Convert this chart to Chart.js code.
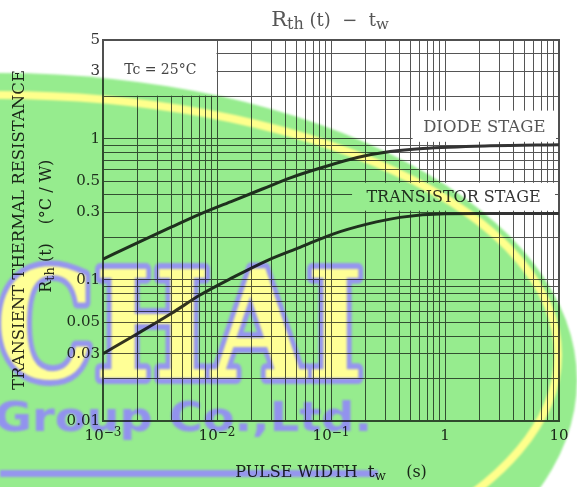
<!DOCTYPE html>
<html>
<head>
<meta charset="utf-8">
<script src="https://cdn.jsdelivr.net/npm/chart.js@4.4.1/dist/chart.umd.min.js"></script>
<style>
  html, body { margin: 0; padding: 0; background: #fff; }
  #wrap { width: 577px; height: 487px; }
</style>
</head>
<body>
<div id="wrap"><canvas id="c" width="577" height="487"></canvas></div>
<script>
// pulse width (s) and Rth(t) (°C/W)
const diodeT = [0.001, 0.002, 0.004, 0.0071, 0.0138, 0.025, 0.044, 0.085, 0.17, 0.33, 0.64, 2.5, 10];
const diodeR = [0.14, 0.183, 0.237, 0.292, 0.363, 0.44, 0.528, 0.627, 0.735, 0.81, 0.852, 0.89, 0.906];
const transT = [0.001, 0.002, 0.004, 0.0071, 0.0138, 0.0275, 0.0535, 0.104, 0.207, 0.403, 1, 2, 5, 10];
const transR = [0.03, 0.0415, 0.058, 0.078, 0.104, 0.137, 0.17, 0.211, 0.248, 0.277, 0.294, 0.295, 0.295, 0.295];

const yLabels = [0.01, 0.03, 0.05, 0.1, 0.3, 0.5, 1, 3, 5];
const xDecades = [0.001, 0.01, 0.1, 1, 10];
const xTickBase = ["10", "10", "10", "1", "10"];
const xTickExp = ["\u22123", "\u22122", "\u22121", "", ""];

const titleText = ["R", "th", " (t)", "  \u2212  ", "t", "w"];
const yTitle = "TRANSIENT THERMAL RESISTANCE";
const yUnit = "(\u00B0C / W)";
const xTitle = ["PULSE WIDTH  ", "t", "w", "    (s)"];
const tcText = "Tc = 25\u00B0C";
const diodeLabel = "DIODE STAGE";
const transLabel = "TRANSISTOR STAGE";
const wmMain = "CHAI";
const wmSub = "Group Co.,Ltd.";

// 1..9 per decade for the log grid
function logGrid(eMin, eMax, lo, hi) {
  const out = [];
  for (let e = eMin; e <= eMax; e++) {
    for (let m = 1; m <= 9; m++) {
      const v = +(m * Math.pow(10, e)).toPrecision(3);
      if (v >= lo && v <= hi) out.push(v);
    }
  }
  return out;
}
const xGrid = logGrid(-3, 1, 0.001, 10);
const yGrid = logGrid(-2, 0, 0.01, 5);

const SERIF = '"DejaVu Serif", "Liberation Serif", serif';

function rich(ctx, parts, cx, base) {
  let w = 0;
  parts.forEach((p) => {
    ctx.font = p.s + "px " + SERIF;
    w += ctx.measureText(p.t).width;
  });
  let x = cx - w / 2;
  ctx.textAlign = "left";
  ctx.textBaseline = "alphabetic";
  parts.forEach((p) => {
    ctx.font = p.s + "px " + SERIF;
    ctx.fillText(p.t, x, base + (p.dy || 0));
    x += ctx.measureText(p.t).width;
  });
}

const decor = {
  id: "decor",
  beforeDraw(chart) {
    const ctx = chart.ctx;
    ctx.save();
    ctx.fillStyle = "#fff";
    ctx.fillRect(0, 0, chart.width, chart.height);
    ctx.restore();
  },
  beforeDatasetsDraw(chart) {
    const { ctx, chartArea: a, scales } = chart;
    const x = scales.x, y = scales.y;
    ctx.save();

    // blank label boxes over the grid
    ctx.fillStyle = "#fff";
    const tc = [a.left + 1, a.top + 1, x.getPixelForValue(0.01) - 0.5, y.getPixelForValue(2) - 0.5];
    const db = [x.getPixelForValue(0.52), y.getPixelForValue(1.58), a.right - 3, y.getPixelForValue(0.95)];
    const tb = [x.getPixelForValue(0.153), y.getPixelForValue(0.487), a.right - 4, y.getPixelForValue(0.309)];
    [tc, db, tb].forEach((b) => ctx.fillRect(b[0], b[1], b[2] - b[0], b[3] - b[1]));

    // frame
    ctx.strokeStyle = "#505050";
    ctx.lineWidth = 2;
    ctx.strokeRect(a.left, a.top, a.right - a.left, a.bottom - a.top);

    ctx.textAlign = "center";
    ctx.textBaseline = "middle";
    ctx.fillStyle = "#444";
    ctx.font = "14px " + SERIF;
    ctx.fillText(tcText, (tc[0] + tc[2]) / 2, (tc[1] + tc[3]) / 2 + 2);
    ctx.fillStyle = "#555";
    ctx.font = "16.5px " + SERIF;
    ctx.fillText(diodeLabel, (db[0] + db[2]) / 2, (db[1] + db[3]) / 2 + 1);
    ctx.fillStyle = "#333";
    ctx.font = "16px " + SERIF;
    ctx.fillText(transLabel, (tb[0] + tb[2]) / 2, (tb[1] + tb[3]) / 2 + 1);

    // title
    ctx.fillStyle = "#555";
    rich(ctx, [
      { t: titleText[0], s: 21 },
      { t: titleText[1], s: 16, dy: 3 },
      { t: titleText[2], s: 18 },
      { t: titleText[3], s: 18 },
      { t: titleText[4], s: 18 },
      { t: titleText[5], s: 15, dy: 3 }
    ], 330, 26);

    // x tick labels
    ctx.fillStyle = "#2a2a2a";
    xDecades.forEach((v, i) => {
      const px = x.getPixelForValue(v);
      rich(ctx, [
        { t: xTickBase[i], s: 15 },
        { t: xTickExp[i], s: 12, dy: -4 }
      ], px, 440);
    });

    // x title
    rich(ctx, [
      { t: xTitle[0], s: 16 },
      { t: xTitle[1], s: 17 },
      { t: xTitle[2], s: 13, dy: 3 },
      { t: xTitle[3], s: 16 }
    ], (a.left + a.right) / 2, 477);

    // y title, two rotated lines
    ctx.save();
    ctx.translate(20, 230);
    ctx.rotate(-Math.PI / 2);
    ctx.textAlign = "center";
    ctx.textBaseline = "middle";
    ctx.font = "16.5px " + SERIF;
    ctx.fillText(yTitle, 0, 0);
    ctx.restore();

    ctx.save();
    ctx.translate(51, 268);
    ctx.rotate(-Math.PI / 2);
    rich(ctx, [
      { t: "R", s: 16 },
      { t: "th", s: 13, dy: 3 },
      { t: " (t)", s: 16 }
    ], 0, 0);
    ctx.restore();

    ctx.save();
    ctx.translate(51, 192);
    ctx.rotate(-Math.PI / 2);
    rich(ctx, [{ t: yUnit, s: 16 }], 0, 0);
    ctx.restore();

    ctx.restore();
  },
  afterDraw(chart) {
    // watermark, multiplied over the finished chart
    const { ctx, width, height } = chart;
    const off = document.createElement("canvas");
    off.width = width;
    off.height = height;
    const o = off.getContext("2d");
    o.filter = "blur(1px)";

    o.fillStyle = "rgb(150,236,142)";
    o.beginPath();
    o.ellipse(0, 380, 577, 307, 0, 0, Math.PI * 2);
    o.fill();

    o.strokeStyle = "rgb(255,255,140)";
    o.lineWidth = 8;
    o.beginPath();
    o.ellipse(0, 355, 558, 260, 0, 0, Math.PI * 2);
    o.stroke();

    o.font = 'bold 150px "DejaVu Serif"';
    const w1 = o.measureText(wmMain).width;
    o.save();
    o.translate(-4, 378);
    o.scale(368 / w1, 1);
    o.lineJoin = "round";
    o.strokeStyle = "rgb(150,150,238)";
    o.lineWidth = 12;
    o.strokeText(wmMain, 0, 0);
    o.fillStyle = "rgb(255,255,150)";
    o.fillText(wmMain, 0, 0);
    o.restore();

    o.font = 'bold 41px "DejaVu Sans"';
    const w2 = o.measureText(wmSub).width;
    o.save();
    o.translate(-6, 431);
    o.scale(378 / w2, 1);
    o.fillStyle = "rgb(146,146,238)";
    o.fillText(wmSub, 0, 0);
    o.restore();

    o.fillStyle = "rgb(150,150,238)";
    o.fillRect(0, 470, 378, 7);

    ctx.save();
    ctx.globalCompositeOperation = "multiply";
    ctx.drawImage(off, 0, 0);
    ctx.restore();
  }
};

const gridOpts = { color: "#555", lineWidth: 1, drawTicks: false };

new Chart(document.getElementById("c"), {
  type: "line",
  data: {
    datasets: [
      {
        label: diodeLabel,
        data: diodeT.map((t, i) => ({ x: t, y: diodeR[i] })),
        borderColor: "#333",
        borderWidth: 3,
        pointRadius: 0,
        cubicInterpolationMode: "monotone"
      },
      {
        label: transLabel,
        data: transT.map((t, i) => ({ x: t, y: transR[i] })),
        borderColor: "#333",
        borderWidth: 3,
        pointRadius: 0,
        cubicInterpolationMode: "monotone"
      }
    ]
  },
  options: {
    responsive: false,
    animation: false,
    layout: { padding: { left: 0, top: 40, right: 18, bottom: 0 } },
    plugins: {
      legend: { display: false },
      tooltip: { enabled: false },
      title: { display: false }
    },
    scales: {
      x: {
        type: "logarithmic",
        min: 0.001,
        max: 10,
        afterBuildTicks: (s) => { s.ticks = xGrid.map((v) => ({ value: v })); },
        afterFit: (s) => { s.height = 66; },
        ticks: { display: false, autoSkip: false },
        grid: gridOpts,
        border: { display: false }
      },
      y: {
        type: "logarithmic",
        min: 0.01,
        max: 5,
        afterBuildTicks: (s) => { s.ticks = yGrid.map((v) => ({ value: v })); },
        afterFit: (s) => { s.width = 103; },
        ticks: {
          autoSkip: false,
          padding: 3,
          color: "#333",
          font: { family: SERIF, size: 15 },
          callback: (v) => (yLabels.includes(v) ? String(v) : "")
        },
        grid: gridOpts,
        border: { display: false }
      }
    }
  },
  plugins: [decor]
});
</script>
</body>
</html>
